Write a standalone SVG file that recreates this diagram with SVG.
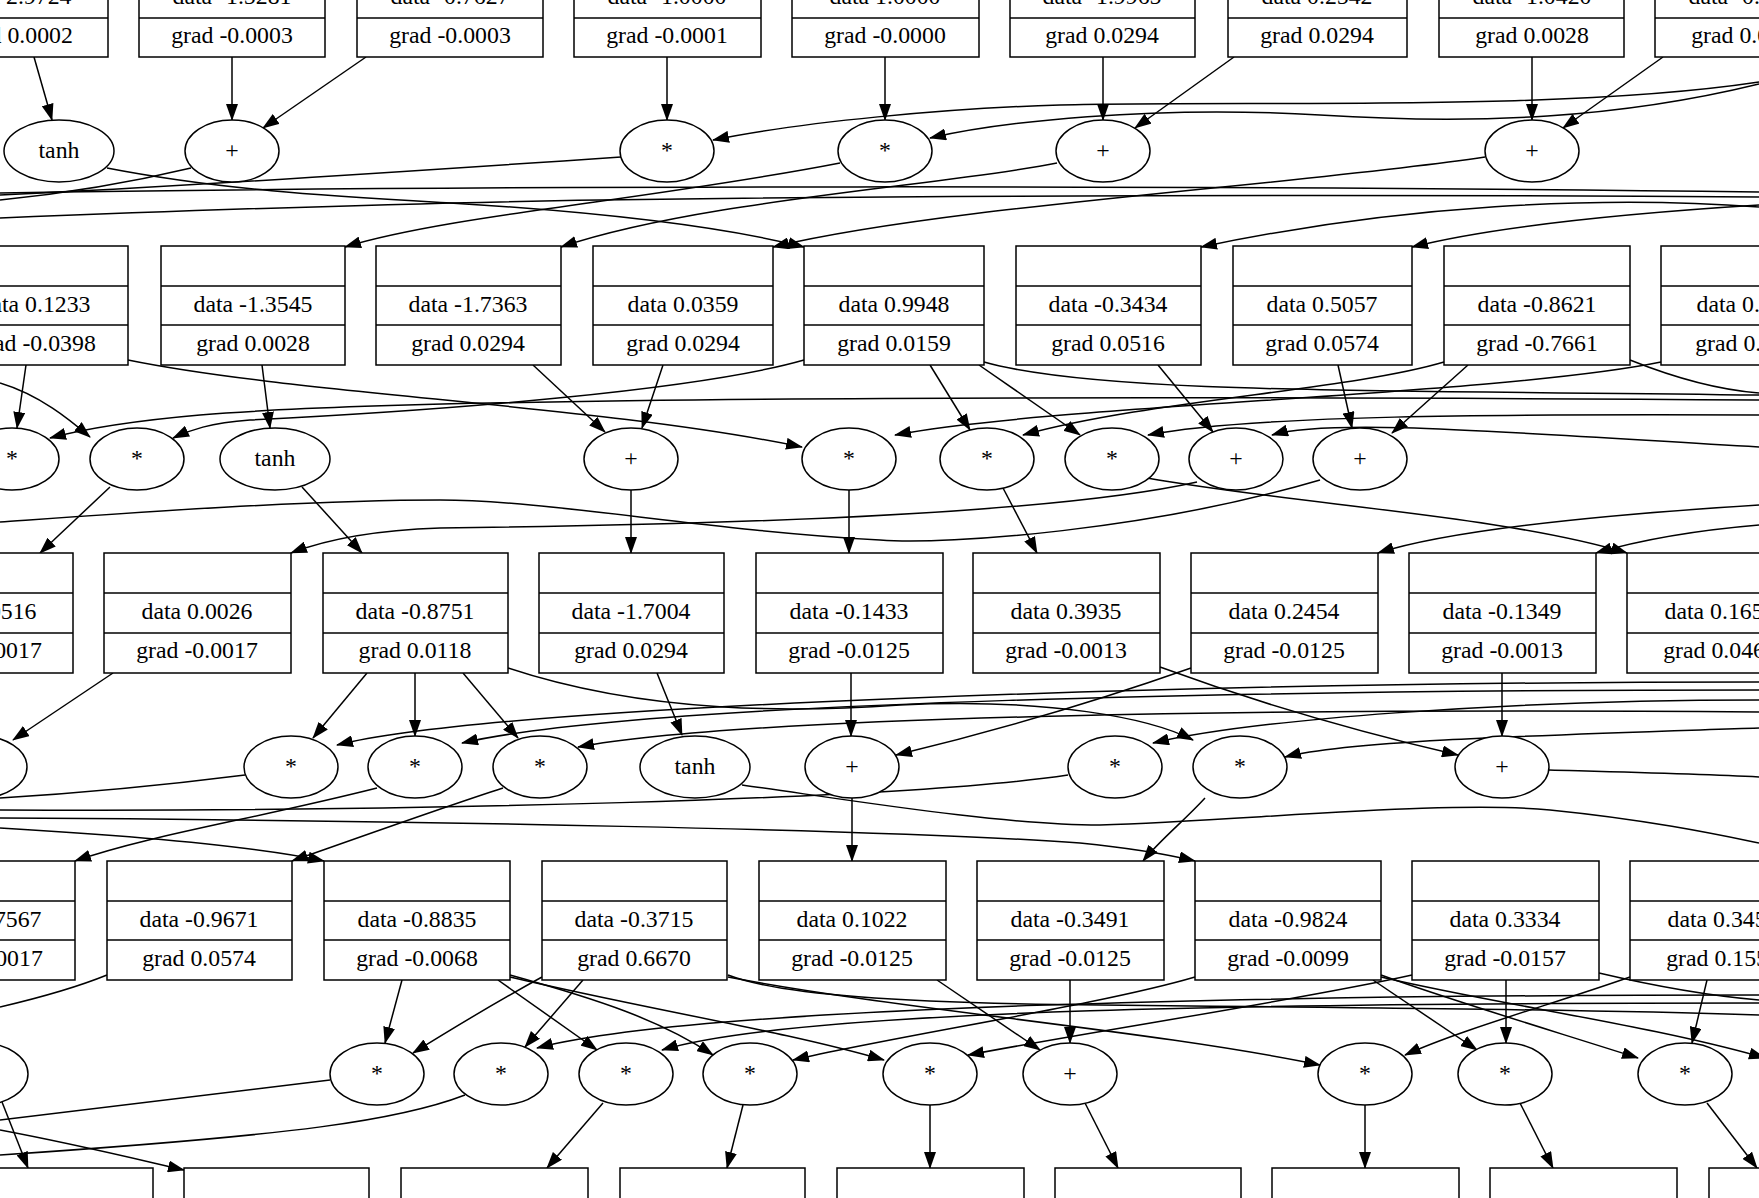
<svg xmlns="http://www.w3.org/2000/svg" width="1759" height="1198" viewBox="0 0 1759 1198">
<style>
.n rect{fill:#fff;stroke:#000;stroke-width:1.5}
.n line{stroke:#000;stroke-width:1.5}
.n ellipse{fill:#fff;stroke:#000;stroke-width:1.5}
text{font-family:"Liberation Serif","Times New Roman",serif;font-size:23.8px;text-anchor:middle;fill:#000}
#edges path{fill:none;stroke:#000;stroke-width:1.5}
#edges path.a{marker-end:url(#ah)}
</style>
<defs>
<marker id="ah" markerWidth="17" markerHeight="12" refX="16" refY="6" orient="auto" markerUnits="userSpaceOnUse"><path d="M0,0 L17,6 L0,12 z" fill="#000"/></marker>
</defs>
<rect x="0" y="0" width="1759" height="1198" fill="#fff"/>
<g id="edges">
<!-- band 1 -->
<path class="a" d="M34,57 L52,120"/>
<path class="a" d="M232,57 L232,120"/>
<path class="a" d="M366,57 L263,128"/>
<path class="a" d="M667,57 L667,120"/>
<path class="a" d="M885,57 L885,120"/>
<path class="a" d="M1103,57 L1103,120"/>
<path class="a" d="M1234,57 L1135,128"/>
<path class="a" d="M1532,57 L1532,120"/>
<path class="a" d="M1663,57 L1563,128"/>
<path class="a" d="M1759,82 C1560,112 1250,100 1060,105 C950,108 800,122 713,140"/>
<path class="a" d="M1759,84 C1620,118 1480,125 1320,115 C1150,105 1000,122 930,138"/>
<path class="a" d="M107,168 C220,190 330,196 450,203 C600,212 720,226 804,247"/>
<path d="M191,168 C120,185 50,195 0,200"/>
<path d="M621,157 C400,172 150,188 0,195"/>
<path class="a" d="M840,163 C650,200 450,215 345,247"/>
<path class="a" d="M1057,163 C950,185 700,200 561,247"/>
<path class="a" d="M1485,157 C1300,185 950,205 773,247"/>
<path class="a" d="M1759,207 C1600,195 1400,205 1201,247"/>
<path class="a" d="M1759,205 C1600,215 1480,230 1412,247"/>
<path d="M0,193 C500,185 1200,185 1759,192"/>
<path d="M0,218 C200,210 400,203 600,200 C900,196 1300,194 1759,197"/>
<!-- band 2 -->
<path class="a" d="M26,365 L17,428"/>
<path class="a" d="M262,365 L270,428"/>
<path class="a" d="M533,365 L605,432"/>
<path class="a" d="M663,365 L642,428"/>
<path class="a" d="M930,365 L970,430"/>
<path class="a" d="M979,365 L1080,435"/>
<path class="a" d="M1158,365 L1213,432"/>
<path class="a" d="M1338,365 L1352,428"/>
<path class="a" d="M1468,365 L1392,433"/>
<path class="a" d="M128,360 C300,395 600,405 802,447"/>
<path class="a" d="M0,383 C40,395 70,420 90,437"/>
<path class="a" d="M804,360 C700,390 450,410 250,420 C210,423 190,430 173,438"/>
<path class="a" d="M1759,400 C1000,395 400,398 200,415 C120,422 80,430 50,438"/>
<path class="a" d="M1444,362 C1350,390 1150,400 1023,435"/>
<path class="a" d="M1661,362 C1500,395 1050,405 895,435"/>
<path class="a" d="M1759,415 C1500,414 1250,415 1148,435"/>
<path class="a" d="M1759,447 C1500,432 1330,418 1272,435"/>
<path d="M984,362 C1100,395 1400,390 1759,395"/>
<path d="M1630,360 C1680,380 1720,390 1759,393"/>
<path class="a" d="M110,487 L40,553"/>
<path class="a" d="M302,487 L362,553"/>
<path class="a" d="M631,490 L631,553"/>
<path class="a" d="M849,490 L849,553"/>
<path class="a" d="M1003,488 L1037,553"/>
<path class="a" d="M1147,478 C1300,505 1500,515 1627,553"/>
<path class="a" d="M1197,482 C1050,515 700,525 440,528 C380,530 330,538 291,553"/>
<path d="M1320,480 C1150,530 950,545 880,540 C700,530 550,500 440,500 C300,500 100,515 0,522"/>
<path class="a" d="M1759,505 C1600,515 1450,530 1378,553"/>
<path class="a" d="M1759,525 C1700,530 1640,540 1596,553"/>
<!-- band 3 -->
<path class="a" d="M113,673 L13,740"/>
<path class="a" d="M367,673 L313,738"/>
<path class="a" d="M415,673 L415,736"/>
<path class="a" d="M463,673 L518,738"/>
<path class="a" d="M508,668 C650,715 800,712 900,705 C1050,698 1150,718 1193,740"/>
<path class="a" d="M657,673 L682,735"/>
<path class="a" d="M851,673 L851,736"/>
<path class="a" d="M1191,668 C1100,700 1000,730 896,755"/>
<path class="a" d="M1759,700 C1500,700 1250,720 1153,743"/>
<path class="a" d="M1759,728 C1550,735 1350,740 1285,757"/>
<path class="a" d="M1160,667 C1250,700 1350,730 1458,755"/>
<path class="a" d="M1502,673 L1502,736"/>
<path d="M1549,770 C1620,772 1700,774 1759,777"/>
<path class="a" d="M1759,682 C1200,682 500,705 337,745"/>
<path class="a" d="M1759,690 C1300,690 650,700 462,743"/>
<path class="a" d="M1759,712 C1300,708 750,715 578,747"/>
<path d="M245,775 C150,787 50,795 0,798"/>
<path class="a" d="M377,788 C250,820 150,835 75,861"/>
<path class="a" d="M503,788 C450,805 380,830 292,861"/>
<path class="a" d="M0,828 C120,835 250,845 324,861"/>
<path d="M742,785 C850,800 1000,825 1100,825 C1250,820 1450,800 1550,810 C1650,820 1720,835 1759,843"/>
<path class="a" d="M852,798 L852,861"/>
<path d="M1068,775 C900,800 400,812 0,810"/>
<path class="a" d="M1205,798 C1185,820 1160,840 1143,861"/>
<path class="a" d="M0,818 C400,820 900,830 1080,843 C1130,848 1170,855 1195,861"/>
<!-- band 4 -->
<path class="a" d="M402,980 L385,1043"/>
<path class="a" d="M542,977 C500,1000 450,1030 413,1053"/>
<path class="a" d="M583,980 L525,1047"/>
<path class="a" d="M1759,995 C1300,995 700,1005 537,1048"/>
<path class="a" d="M498,980 L597,1050"/>
<path class="a" d="M1759,1003 C1300,1003 800,1008 662,1050"/>
<path class="a" d="M510,975 C600,1000 660,1020 713,1055"/>
<path class="a" d="M510,977 C650,1010 780,1030 884,1060"/>
<path class="a" d="M1195,977 C1100,1005 900,1035 793,1060"/>
<path d="M728,975 C780,995 900,1003 1100,1005 C1400,1008 1600,1010 1759,1015"/>
<path class="a" d="M728,977 C900,1010 1150,1030 1320,1065"/>
<path class="a" d="M937,980 L1040,1050"/>
<path class="a" d="M1070,980 L1070,1043"/>
<path class="a" d="M1412,975 C1300,1000 1100,1030 968,1055"/>
<path class="a" d="M1373,980 L1477,1050"/>
<path class="a" d="M1506,980 L1506,1043"/>
<path class="a" d="M1381,975 C1450,1000 1550,1030 1638,1058"/>
<path class="a" d="M1381,977 C1500,1005 1650,1025 1765,1058"/>
<path class="a" d="M1707,980 L1692,1043"/>
<path class="a" d="M1630,977 C1550,1005 1460,1030 1405,1055"/>
<path d="M1599,973 C1650,985 1700,995 1759,1000"/>
<path d="M107,975 C70,990 30,1000 0,1007"/>
<path class="a" d="M2,1102 L28,1168"/>
<path d="M330,1080 C200,1095 80,1110 0,1120"/>
<path d="M465,1095 C400,1120 300,1135 0,1155"/>
<path class="a" d="M0,1130 C80,1145 140,1160 184,1170"/>
<path class="a" d="M603,1103 L547,1168"/>
<path class="a" d="M743,1105 L727,1168"/>
<path class="a" d="M930,1105 L930,1168"/>
<path class="a" d="M1085,1103 L1118,1168"/>
<path class="a" d="M1365,1105 L1365,1168"/>
<path class="a" d="M1520,1103 L1553,1168"/>
<path class="a" d="M1707,1103 L1757,1168"/>
</g>
<!-- row 1 boxes -->
<g id="b1_1" class="n"><rect x="-75" y="-62" width="183" height="119"/><line x1="-75" y1="-22" x2="108" y2="-22"/><line x1="-75" y1="18" x2="108" y2="18"/><text x="16" y="4">data 2.9724</text><text x="16" y="43">grad 0.0002</text></g>
<g id="b1_2" class="n"><rect x="139" y="-62" width="186" height="119"/><line x1="139" y1="-22" x2="325" y2="-22"/><line x1="139" y1="18" x2="325" y2="18"/><text x="232" y="4">data -1.5281</text><text x="232" y="43">grad -0.0003</text></g>
<g id="b1_3" class="n"><rect x="357" y="-62" width="186" height="119"/><line x1="357" y1="-22" x2="543" y2="-22"/><line x1="357" y1="18" x2="543" y2="18"/><text x="450" y="4">data -0.7627</text><text x="450" y="43">grad -0.0003</text></g>
<g id="b1_4" class="n"><rect x="574" y="-62" width="187" height="119"/><line x1="574" y1="-22" x2="761" y2="-22"/><line x1="574" y1="18" x2="761" y2="18"/><text x="667" y="4">data -1.0000</text><text x="667" y="43">grad -0.0001</text></g>
<g id="b1_5" class="n"><rect x="792" y="-62" width="187" height="119"/><line x1="792" y1="-22" x2="979" y2="-22"/><line x1="792" y1="18" x2="979" y2="18"/><text x="885" y="4">data 1.0000</text><text x="885" y="43">grad -0.0000</text></g>
<g id="b1_6" class="n"><rect x="1010" y="-62" width="185" height="119"/><line x1="1010" y1="-22" x2="1195" y2="-22"/><line x1="1010" y1="18" x2="1195" y2="18"/><text x="1102" y="4">data -1.9965</text><text x="1102" y="43">grad 0.0294</text></g>
<g id="b1_7" class="n"><rect x="1228" y="-62" width="179" height="119"/><line x1="1228" y1="-22" x2="1407" y2="-22"/><line x1="1228" y1="18" x2="1407" y2="18"/><text x="1317" y="4">data 0.2542</text><text x="1317" y="43">grad 0.0294</text></g>
<g id="b1_8" class="n"><rect x="1439" y="-62" width="185" height="119"/><line x1="1439" y1="-22" x2="1624" y2="-22"/><line x1="1439" y1="18" x2="1624" y2="18"/><text x="1532" y="4">data -1.0420</text><text x="1532" y="43">grad 0.0028</text></g>
<g id="b1_9" class="n"><rect x="1655" y="-62" width="186" height="119"/><line x1="1655" y1="-22" x2="1841" y2="-22"/><line x1="1655" y1="18" x2="1841" y2="18"/><text x="1748" y="4">data -0.5000</text><text x="1748" y="43">grad 0.0028</text></g>
<!-- row 1 ops -->
<g id="o1_1" class="n"><ellipse cx="59" cy="151" rx="55" ry="31"/><text x="59" y="158">tanh</text></g>
<g id="o1_2" class="n"><ellipse cx="232" cy="151" rx="47" ry="31"/><text x="232" y="158">+</text></g>
<g id="o1_3" class="n"><ellipse cx="667" cy="151" rx="47" ry="31"/><text x="667" y="158">*</text></g>
<g id="o1_4" class="n"><ellipse cx="885" cy="151" rx="47" ry="31"/><text x="885" y="158">*</text></g>
<g id="o1_5" class="n"><ellipse cx="1103" cy="151" rx="47" ry="31"/><text x="1103" y="158">+</text></g>
<g id="o1_6" class="n"><ellipse cx="1532" cy="151" rx="47" ry="31"/><text x="1532" y="158">+</text></g>
<!-- row 2 boxes -->
<g id="b2_1" class="n"><rect x="-57" y="246" width="185" height="119"/><line x1="-57" y1="286" x2="128" y2="286"/><line x1="-57" y1="325" x2="128" y2="325"/><text x="35" y="312">data 0.1233</text><text x="35" y="351">grad -0.0398</text></g>
<g id="b2_2" class="n"><rect x="161" y="246" width="184" height="119"/><line x1="161" y1="286" x2="345" y2="286"/><line x1="161" y1="325" x2="345" y2="325"/><text x="253" y="312">data -1.3545</text><text x="253" y="351">grad 0.0028</text></g>
<g id="b2_3" class="n"><rect x="376" y="246" width="185" height="119"/><line x1="376" y1="286" x2="561" y2="286"/><line x1="376" y1="325" x2="561" y2="325"/><text x="468" y="312">data -1.7363</text><text x="468" y="351">grad 0.0294</text></g>
<g id="b2_4" class="n"><rect x="593" y="246" width="180" height="119"/><line x1="593" y1="286" x2="773" y2="286"/><line x1="593" y1="325" x2="773" y2="325"/><text x="683" y="312">data 0.0359</text><text x="683" y="351">grad 0.0294</text></g>
<g id="b2_5" class="n"><rect x="804" y="246" width="180" height="119"/><line x1="804" y1="286" x2="984" y2="286"/><line x1="804" y1="325" x2="984" y2="325"/><text x="894" y="312">data 0.9948</text><text x="894" y="351">grad 0.0159</text></g>
<g id="b2_6" class="n"><rect x="1016" y="246" width="185" height="119"/><line x1="1016" y1="286" x2="1201" y2="286"/><line x1="1016" y1="325" x2="1201" y2="325"/><text x="1108" y="312">data -0.3434</text><text x="1108" y="351">grad 0.0516</text></g>
<g id="b2_7" class="n"><rect x="1233" y="246" width="179" height="119"/><line x1="1233" y1="286" x2="1412" y2="286"/><line x1="1233" y1="325" x2="1412" y2="325"/><text x="1322" y="312">data 0.5057</text><text x="1322" y="351">grad 0.0574</text></g>
<g id="b2_8" class="n"><rect x="1444" y="246" width="186" height="119"/><line x1="1444" y1="286" x2="1630" y2="286"/><line x1="1444" y1="325" x2="1630" y2="325"/><text x="1537" y="312">data -0.8621</text><text x="1537" y="351">grad -0.7661</text></g>
<g id="b2_9" class="n"><rect x="1661" y="246" width="185" height="119"/><line x1="1661" y1="286" x2="1846" y2="286"/><line x1="1661" y1="325" x2="1846" y2="325"/><text x="1752" y="312">data 0.5000</text><text x="1752" y="351">grad 0.5000</text></g>
<!-- row 2 ops -->
<g id="o2_1" class="n"><ellipse cx="12" cy="459" rx="47" ry="31"/><text x="12" y="466">*</text></g>
<g id="o2_2" class="n"><ellipse cx="137" cy="459" rx="47" ry="31"/><text x="137" y="466">*</text></g>
<g id="o2_3" class="n"><ellipse cx="275" cy="459" rx="55" ry="31"/><text x="275" y="466">tanh</text></g>
<g id="o2_4" class="n"><ellipse cx="631" cy="459" rx="47" ry="31"/><text x="631" y="466">+</text></g>
<g id="o2_5" class="n"><ellipse cx="849" cy="459" rx="47" ry="31"/><text x="849" y="466">*</text></g>
<g id="o2_6" class="n"><ellipse cx="987" cy="459" rx="47" ry="31"/><text x="987" y="466">*</text></g>
<g id="o2_7" class="n"><ellipse cx="1112" cy="459" rx="47" ry="31"/><text x="1112" y="466">*</text></g>
<g id="o2_8" class="n"><ellipse cx="1236" cy="459" rx="47" ry="31"/><text x="1236" y="466">+</text></g>
<g id="o2_9" class="n"><ellipse cx="1360" cy="459" rx="47" ry="31"/><text x="1360" y="466">+</text></g>
<!-- row 3 boxes -->
<g id="b3_1" class="n"><rect x="-112" y="553" width="185" height="120"/><line x1="-112" y1="593" x2="73" y2="593"/><line x1="-112" y1="633" x2="73" y2="633"/><text x="-19" y="619">data 0.0516</text><text x="-19" y="658">grad -0.0017</text></g>
<g id="b3_2" class="n"><rect x="104" y="553" width="187" height="120"/><line x1="104" y1="593" x2="291" y2="593"/><line x1="104" y1="633" x2="291" y2="633"/><text x="197" y="619">data 0.0026</text><text x="197" y="658">grad -0.0017</text></g>
<g id="b3_3" class="n"><rect x="323" y="553" width="185" height="120"/><line x1="323" y1="593" x2="508" y2="593"/><line x1="323" y1="633" x2="508" y2="633"/><text x="415" y="619">data -0.8751</text><text x="415" y="658">grad 0.0118</text></g>
<g id="b3_4" class="n"><rect x="539" y="553" width="185" height="120"/><line x1="539" y1="593" x2="724" y2="593"/><line x1="539" y1="633" x2="724" y2="633"/><text x="631" y="619">data -1.7004</text><text x="631" y="658">grad 0.0294</text></g>
<g id="b3_5" class="n"><rect x="756" y="553" width="187" height="120"/><line x1="756" y1="593" x2="943" y2="593"/><line x1="756" y1="633" x2="943" y2="633"/><text x="849" y="619">data -0.1433</text><text x="849" y="658">grad -0.0125</text></g>
<g id="b3_6" class="n"><rect x="973" y="553" width="187" height="120"/><line x1="973" y1="593" x2="1160" y2="593"/><line x1="973" y1="633" x2="1160" y2="633"/><text x="1066" y="619">data 0.3935</text><text x="1066" y="658">grad -0.0013</text></g>
<g id="b3_7" class="n"><rect x="1191" y="553" width="187" height="120"/><line x1="1191" y1="593" x2="1378" y2="593"/><line x1="1191" y1="633" x2="1378" y2="633"/><text x="1284" y="619">data 0.2454</text><text x="1284" y="658">grad -0.0125</text></g>
<g id="b3_8" class="n"><rect x="1409" y="553" width="187" height="120"/><line x1="1409" y1="593" x2="1596" y2="593"/><line x1="1409" y1="633" x2="1596" y2="633"/><text x="1502" y="619">data -0.1349</text><text x="1502" y="658">grad -0.0013</text></g>
<g id="b3_9" class="n"><rect x="1627" y="553" width="187" height="120"/><line x1="1627" y1="593" x2="1814" y2="593"/><line x1="1627" y1="633" x2="1814" y2="633"/><text x="1720" y="619">data 0.1652</text><text x="1720" y="658">grad 0.0461</text></g>
<!-- row 3 ops -->
<g id="o3_0" class="n"><ellipse cx="-20" cy="767" rx="47" ry="31"/></g>
<g id="o3_1" class="n"><ellipse cx="291" cy="767" rx="47" ry="31"/><text x="291" y="774">*</text></g>
<g id="o3_2" class="n"><ellipse cx="415" cy="767" rx="47" ry="31"/><text x="415" y="774">*</text></g>
<g id="o3_3" class="n"><ellipse cx="540" cy="767" rx="47" ry="31"/><text x="540" y="774">*</text></g>
<g id="o3_4" class="n"><ellipse cx="695" cy="767" rx="55" ry="31"/><text x="695" y="774">tanh</text></g>
<g id="o3_5" class="n"><ellipse cx="852" cy="767" rx="47" ry="31"/><text x="852" y="774">+</text></g>
<g id="o3_6" class="n"><ellipse cx="1115" cy="767" rx="47" ry="31"/><text x="1115" y="774">*</text></g>
<g id="o3_7" class="n"><ellipse cx="1240" cy="767" rx="47" ry="31"/><text x="1240" y="774">*</text></g>
<g id="o3_8" class="n"><ellipse cx="1502" cy="767" rx="47" ry="31"/><text x="1502" y="774">+</text></g>
<!-- row 4 boxes -->
<g id="b4_1" class="n"><rect x="-111" y="861" width="186" height="119"/><line x1="-111" y1="901" x2="75" y2="901"/><line x1="-111" y1="940" x2="75" y2="940"/><text x="-18" y="927">data -0.7567</text><text x="-18" y="966">grad -0.0017</text></g>
<g id="b4_2" class="n"><rect x="107" y="861" width="185" height="119"/><line x1="107" y1="901" x2="292" y2="901"/><line x1="107" y1="940" x2="292" y2="940"/><text x="199" y="927">data -0.9671</text><text x="199" y="966">grad 0.0574</text></g>
<g id="b4_3" class="n"><rect x="324" y="861" width="186" height="119"/><line x1="324" y1="901" x2="510" y2="901"/><line x1="324" y1="940" x2="510" y2="940"/><text x="417" y="927">data -0.8835</text><text x="417" y="966">grad -0.0068</text></g>
<g id="b4_4" class="n"><rect x="542" y="861" width="185" height="119"/><line x1="542" y1="901" x2="727" y2="901"/><line x1="542" y1="940" x2="727" y2="940"/><text x="634" y="927">data -0.3715</text><text x="634" y="966">grad 0.6670</text></g>
<g id="b4_5" class="n"><rect x="759" y="861" width="187" height="119"/><line x1="759" y1="901" x2="946" y2="901"/><line x1="759" y1="940" x2="946" y2="940"/><text x="852" y="927">data 0.1022</text><text x="852" y="966">grad -0.0125</text></g>
<g id="b4_6" class="n"><rect x="977" y="861" width="187" height="119"/><line x1="977" y1="901" x2="1164" y2="901"/><line x1="977" y1="940" x2="1164" y2="940"/><text x="1070" y="927">data -0.3491</text><text x="1070" y="966">grad -0.0125</text></g>
<g id="b4_7" class="n"><rect x="1195" y="861" width="186" height="119"/><line x1="1195" y1="901" x2="1381" y2="901"/><line x1="1195" y1="940" x2="1381" y2="940"/><text x="1288" y="927">data -0.9824</text><text x="1288" y="966">grad -0.0099</text></g>
<g id="b4_8" class="n"><rect x="1412" y="861" width="187" height="119"/><line x1="1412" y1="901" x2="1599" y2="901"/><line x1="1412" y1="940" x2="1599" y2="940"/><text x="1505" y="927">data 0.3334</text><text x="1505" y="966">grad -0.0157</text></g>
<g id="b4_9" class="n"><rect x="1630" y="861" width="187" height="119"/><line x1="1630" y1="901" x2="1817" y2="901"/><line x1="1630" y1="940" x2="1817" y2="940"/><text x="1723" y="927">data 0.3452</text><text x="1723" y="966">grad 0.1554</text></g>
<!-- row 4 ops -->
<g id="o4_0" class="n"><ellipse cx="-19" cy="1074" rx="47" ry="31"/></g>
<g id="o4_1" class="n"><ellipse cx="377" cy="1074" rx="47" ry="31"/><text x="377" y="1081">*</text></g>
<g id="o4_2" class="n"><ellipse cx="501" cy="1074" rx="47" ry="31"/><text x="501" y="1081">*</text></g>
<g id="o4_3" class="n"><ellipse cx="626" cy="1074" rx="47" ry="31"/><text x="626" y="1081">*</text></g>
<g id="o4_4" class="n"><ellipse cx="750" cy="1074" rx="47" ry="31"/><text x="750" y="1081">*</text></g>
<g id="o4_5" class="n"><ellipse cx="930" cy="1074" rx="47" ry="31"/><text x="930" y="1081">*</text></g>
<g id="o4_6" class="n"><ellipse cx="1070" cy="1074" rx="47" ry="31"/><text x="1070" y="1081">+</text></g>
<g id="o4_7" class="n"><ellipse cx="1365" cy="1074" rx="47" ry="31"/><text x="1365" y="1081">*</text></g>
<g id="o4_8" class="n"><ellipse cx="1505" cy="1074" rx="47" ry="31"/><text x="1505" y="1081">*</text></g>
<g id="o4_9" class="n"><ellipse cx="1685" cy="1074" rx="47" ry="31"/><text x="1685" y="1081">*</text></g>
<!-- row 5 boxes -->
<g id="b5_1" class="n"><rect x="-35" y="1168" width="188" height="119"/></g>
<g id="b5_2" class="n"><rect x="184" y="1168" width="185" height="119"/></g>
<g id="b5_3" class="n"><rect x="401" y="1168" width="187" height="119"/></g>
<g id="b5_4" class="n"><rect x="620" y="1168" width="185" height="119"/></g>
<g id="b5_5" class="n"><rect x="837" y="1168" width="187" height="119"/></g>
<g id="b5_6" class="n"><rect x="1055" y="1168" width="186" height="119"/></g>
<g id="b5_7" class="n"><rect x="1272" y="1168" width="187" height="119"/></g>
<g id="b5_8" class="n"><rect x="1490" y="1168" width="187" height="119"/></g>
<g id="b5_9" class="n"><rect x="1709" y="1168" width="187" height="119"/></g>
</svg>
